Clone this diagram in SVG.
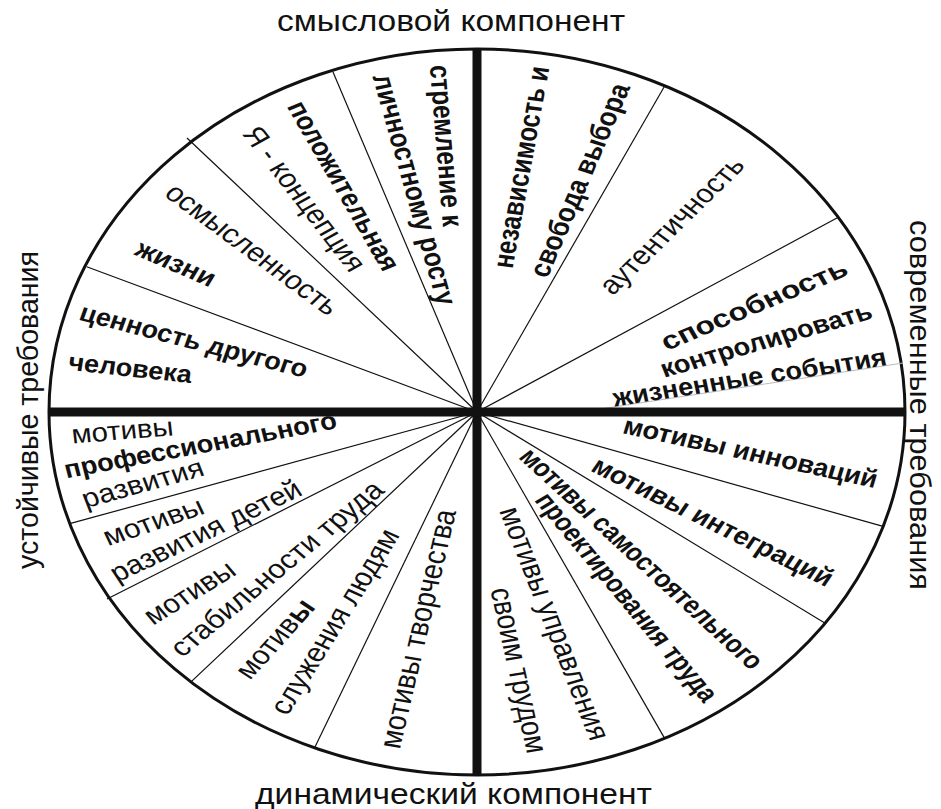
<svg xmlns="http://www.w3.org/2000/svg" width="941" height="809" viewBox="0 0 941 809">
<style>
text{font-family:"Liberation Sans",Arial,sans-serif;fill:#111;text-anchor:middle}
.b{font-weight:bold;font-size:25px}
.r{font-weight:normal;font-size:26.5px}
.lbl{font-weight:normal;font-size:29px}
.spoke{stroke:#111;stroke-width:1.2;fill:none}
.axis{stroke:#111;stroke-width:9;fill:none}
.faint{stroke:#bbb;stroke-width:1;fill:none}
</style>
<rect width="941" height="809" fill="#fff"/>
<g id="outline">
<ellipse cx="477" cy="412" rx="428" ry="363" fill="#fff" stroke="#111" stroke-width="3"/>
</g>
<g id="connectors">
<line class="spoke" x1="477" y1="412" x2="333" y2="72"/>
<line class="spoke" x1="477" y1="412" x2="187" y2="138"/>
<line class="spoke" x1="477" y1="412" x2="86.7" y2="266.7"/>
<line class="spoke" x1="477" y1="412" x2="664.8" y2="85.7"/>
<line class="spoke" x1="477" y1="412" x2="838.3" y2="217.3"/>
<line class="faint" x1="587" y1="411" x2="903" y2="363"/>
<line class="spoke" x1="477" y1="412" x2="69.7" y2="523.7"/>
<line class="spoke" x1="477" y1="412" x2="107" y2="599"/>
<line class="spoke" x1="477" y1="412" x2="191" y2="681.9"/>
<line class="spoke" x1="477" y1="412" x2="314.5" y2="748"/>
<line class="spoke" x1="477" y1="412" x2="883.1" y2="526.4"/>
<line class="spoke" x1="477" y1="412" x2="825.2" y2="623.2"/>
<line class="spoke" x1="477" y1="412" x2="664.5" y2="738.1"/>
<line class="axis" x1="477" y1="49" x2="477" y2="775"/>
<line class="axis" x1="49" y1="412" x2="905" y2="412"/>
</g>
<g id="axis-labels">
<text class="lbl" x="451" y="31" textLength="348" lengthAdjust="spacingAndGlyphs">смысловой компонент</text>
<text class="lbl" x="453.5" y="804" font-size="30" textLength="397" lengthAdjust="spacingAndGlyphs">динамический компонент</text>
<text class="lbl" transform="translate(38,410) rotate(-90)" textLength="318" lengthAdjust="spacingAndGlyphs">устойчивые требования</text>
<text class="lbl" transform="translate(910,405) rotate(90)" textLength="370" lengthAdjust="spacingAndGlyphs">современные требования</text>
</g>
<g id="sector-growth">
<text class="b" transform="translate(444,145.8) scale(1.18,1) rotate(86)" y="6.5" textLength="162" lengthAdjust="spacingAndGlyphs">стремление к</text>
<text class="b" transform="translate(412.5,190) scale(1.18,1) rotate(76.5)" y="6.5" textLength="236.5" lengthAdjust="spacingAndGlyphs">личностному росту</text>
</g>
<g id="sector-selfconcept">
<text class="b" transform="translate(341.7,186.7) scale(1.18,1) rotate(63.8)" y="6.5" textLength="185.7" lengthAdjust="spacingAndGlyphs">положительная</text>
<text class="r" transform="translate(302.5,200) scale(1.18,1) rotate(56.7)" y="6.9" textLength="167.4" lengthAdjust="spacingAndGlyphs">Я - концепция</text>
</g>
<g id="sector-meaning">
<text class="r" transform="translate(250.8,250.8) scale(1.18,1) rotate(41)" y="6.9" textLength="185.4" lengthAdjust="spacingAndGlyphs">осмысленность</text>
<text class="b" transform="translate(175,265) scale(1.18,1) rotate(27.1)" y="6.5" textLength="73" lengthAdjust="spacingAndGlyphs">жизни</text>
</g>
<g id="sector-value">
<text class="b" transform="translate(193.3,342.5) scale(1.18,1) rotate(16.9)" y="6.5" textLength="200.8" lengthAdjust="spacingAndGlyphs">ценность другого</text>
<text class="b" transform="translate(130,370) scale(1.18,1) rotate(7.3)" y="6.5" textLength="105.3" lengthAdjust="spacingAndGlyphs">человека</text>
</g>
<g id="sector-independence">
<text class="b" transform="translate(523.3,167.5) scale(1.18,1) rotate(-81.2)" y="6.5" textLength="204.1" lengthAdjust="spacingAndGlyphs">независимость и</text>
<text class="b" transform="translate(581.7,180.8) scale(1.18,1) rotate(-69.8)" y="6.5" textLength="204.3" lengthAdjust="spacingAndGlyphs">свобода выбора</text>
</g>
<g id="sector-authenticity">
<text class="r" transform="translate(673.3,226.7) scale(1.18,1) rotate(-49)" y="6.9" textLength="172.2" lengthAdjust="spacingAndGlyphs">аутентичность</text>
</g>
<g id="sector-control">
<text class="b" transform="translate(755,306.7) scale(1.18,1) rotate(-26.3)" y="6.5" textLength="173.2" lengthAdjust="spacingAndGlyphs">способность</text>
<text class="b" transform="translate(766.7,341.7) scale(1.18,1) rotate(-18.6)" y="6.5" textLength="187.8" lengthAdjust="spacingAndGlyphs">контролировать</text>
<text class="b" transform="translate(750,379.2) scale(1.18,1) rotate(-10.2)" y="6.5" textLength="235.3" lengthAdjust="spacingAndGlyphs">жизненные события</text>
</g>
<g id="sector-professional">
<text class="r" transform="translate(122.5,432.5) scale(1.18,1) rotate(-5.5)" y="6.9" textLength="86.6" lengthAdjust="spacingAndGlyphs">мотивы</text>
<text class="b" transform="translate(200.8,446.7) scale(1.18,1) rotate(-12.3)" y="6.5" textLength="235.7" lengthAdjust="spacingAndGlyphs">профессионального</text>
<text class="r" transform="translate(143.3,485) scale(1.18,1) rotate(-18.1)" y="6.9" textLength="107" lengthAdjust="spacingAndGlyphs">развития</text>
</g>
<g id="sector-children">
<text class="r" transform="translate(154.2,523.3) scale(1.18,1) rotate(-21.8)" y="6.9" textLength="89.7" lengthAdjust="spacingAndGlyphs">мотивы</text>
<text class="r" transform="translate(206.7,532.5) scale(1.18,1) rotate(-29.2)" y="6.9" textLength="181.3" lengthAdjust="spacingAndGlyphs">развития детей</text>
</g>
<g id="sector-stability">
<text class="r" transform="translate(190.8,594.2) scale(1.18,1) rotate(-35.7)" y="6.9" textLength="88.7" lengthAdjust="spacingAndGlyphs">мотивы</text>
<text class="r" transform="translate(278.3,570) scale(1.18,1) rotate(-44)" y="6.9" textLength="239.7" lengthAdjust="spacingAndGlyphs">стабильности труда</text>
</g>
<g id="sector-service">
<text class="r" transform="translate(276.7,640) scale(1.18,1) rotate(-52.4)" y="6.9" textLength="92.5" lengthAdjust="spacingAndGlyphs">мотив<tspan font-weight="bold">ы</tspan></text>
<text class="r" transform="translate(336.7,622.5) scale(1.18,1) rotate(-62.2)" y="6.9" textLength="205.5" lengthAdjust="spacingAndGlyphs">служения людям</text>
</g>
<g id="sector-creativity">
<text class="r" transform="translate(420,629.2) scale(1.18,1) rotate(-78.6)" y="6.9" textLength="243.1" lengthAdjust="spacingAndGlyphs">мотивы творчества</text>
</g>
<g id="sector-innovation">
<text class="b" transform="translate(750,454.2) scale(1.18,1) rotate(14.4)" y="6.5" textLength="221.6" lengthAdjust="spacingAndGlyphs">мотивы инноваций</text>
</g>
<g id="sector-integration">
<text class="b" transform="translate(711.7,523.3) scale(1.18,1) rotate(30.2)" y="6.5" textLength="232.1" lengthAdjust="spacingAndGlyphs">мотивы интеграций</text>
</g>
<g id="sector-design">
<text class="b" transform="translate(640,560) scale(1.18,1) rotate(47.2)" y="6.5" textLength="290.8" lengthAdjust="spacingAndGlyphs">мотивы самостоятельного</text>
<text class="b" transform="translate(625,598.3) scale(1.18,1) rotate(54.7)" y="6.5" textLength="249.2" lengthAdjust="spacingAndGlyphs">проектирования труда</text>
</g>
<g id="sector-management">
<text class="r" transform="translate(552.5,624.2) scale(1.18,1) rotate(71.5)" y="6.9" textLength="244.3" lengthAdjust="spacingAndGlyphs">мотивы управления</text>
<text class="r" transform="translate(516.7,670.8) scale(1.18,1) rotate(79.3)" y="6.9" textLength="167.9" lengthAdjust="spacingAndGlyphs">своим трудом</text>
</g>
</svg>
